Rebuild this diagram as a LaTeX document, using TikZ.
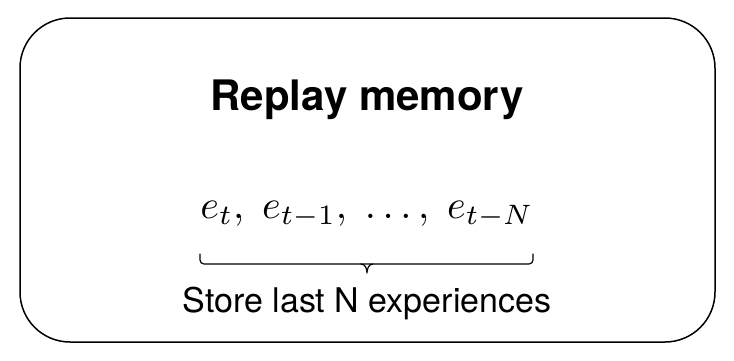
\documentclass[tikz,border=0pt]{standalone}
\usepackage{fontspec}
\usepackage{graphicx}
\setsansfont{TeX Gyre Heros}
\setmainfont{TeX Gyre Heros}
\tikzset{
  frame/.style={line width=1.5pt, rounded corners=50pt},
  bracepath/.style={line width=1.2pt, line cap=round},
  titletext/.style={anchor=base, inner sep=0pt, font=\fontsize{42}{46}\selectfont\bfseries\sffamily},
  bodytext/.style={anchor=base, inner sep=0pt, font=\fontsize{34}{38}\selectfont\sffamily},
  mathtext/.style={anchor=base, inner sep=0pt}
}
\begin{document}
\begin{tikzpicture}[x=1pt,y=-1pt]
\useasboundingbox (0,0) rectangle (734,360);
\draw[frame] (20,18) rectangle (715,342);
\node[titletext] (title) at (367,110) {Replay memory};
\node[mathtext] (seq) at (367,218) {\resizebox{333pt}{!}{$e_t,\ e_{t-1},\ \dots,\ e_{t-N}$}};
\node[bodytext] (store) at (367,312) {Store last N experiences};
\coordinate (bl) at (200,254);
\coordinate (br) at (533,254);
\coordinate (tip) at (367,273);
\draw[bracepath, rounded corners=4pt] (bl) -- (200,264) -- (533,264) -- (br);
\draw[bracepath] (361,264) to[out=0,in=90] (tip) (373,264) to[out=180,in=90] (tip);
\end{tikzpicture}
\end{document}
